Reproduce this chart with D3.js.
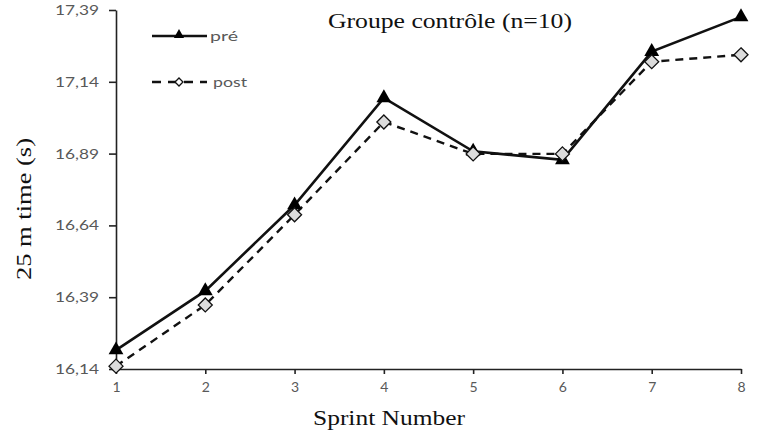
<!DOCTYPE html>
<html>
<head>
<meta charset="utf-8">
<script src="https://cdn.jsdelivr.net/npm/d3@7/dist/d3.min.js"></script>
<style>
  body { margin: 0; background: #fff; }
  .tick text { font-family: Lato, "Liberation Sans", sans-serif; font-size: 14px; fill: #595959; }
  .serif { font-family: "Liberation Serif", "DejaVu Serif", serif; fill: #111; }
</style>
</head>
<body>
<div id="chart"></div>
<script>
var sprints = [1, 2, 3, 4, 5, 6, 7, 8];
var pre = [16.206, 16.412, 16.711, 17.084, 16.898, 16.868, 17.245, 17.366];
var post = [16.150, 16.363, 16.677, 17.000, 16.889, 16.889, 17.210, 17.234];
var yTicks = [16.14, 16.39, 16.64, 16.89, 17.14, 17.39];

var w = 761, h = 438;
var padLeft = 116, padRight = 741, padTop = 10, padBottom = 369;

var svg = d3.select("#chart").append("svg")
    .attr("width", w)
    .attr("height", h);

var x = d3.scaleLinear().domain([1, 8]).range([padLeft, padRight]);
var y = d3.scaleLinear().domain([16.14, 17.39]).range([padBottom, padTop]);

var fmt = function (d) { return d.toFixed(2).replace(".", ","); };

var xAxis = svg.append("g")
    .attr("transform", "translate(0," + padBottom + ")")
    .call(d3.axisBottom(x).tickValues(sprints).tickFormat(d3.format("d"))
        .tickSize(5).tickSizeOuter(0).tickPadding(8));

var yAxis = svg.append("g")
    .attr("transform", "translate(" + padLeft + ",0)")
    .call(d3.axisLeft(y).tickValues(yTicks).tickFormat(fmt)
        .tickSize(7).tickSizeOuter(0).tickPadding(10));

yAxis.selectAll(".tick text")
    .attr("textLength", 44)
    .attr("lengthAdjust", "spacingAndGlyphs");

svg.selectAll(".domain, .tick line")
    .attr("stroke", "#222")
    .attr("stroke-width", 1.6);

// lines
var line = d3.line()
    .x(function (d, i) { return x(sprints[i]); })
    .y(function (d) { return y(d); });

svg.append("path")
    .datum(post)
    .attr("d", line)
    .attr("fill", "none")
    .attr("stroke", "#111")
    .attr("stroke-width", 2.4)
    .attr("stroke-dasharray", "8,6");

svg.append("path")
    .datum(pre)
    .attr("d", line)
    .attr("fill", "none")
    .attr("stroke", "#111")
    .attr("stroke-width", 2.6);

var tri = d3.symbol().type(d3.symbolTriangle).size(95);
var dia = function (s) {
    return "M0," + (-s) + "L" + s + ",0L0," + s + "L" + (-s) + ",0Z";
};

svg.selectAll(".pre-pt")
    .data(pre)
    .enter()
    .append("path")
    .attr("class", "pre-pt")
    .attr("d", tri)
    .attr("transform", function (d, i) { return "translate(" + x(sprints[i]) + "," + y(d) + ")"; })
    .attr("fill", "#000");

svg.selectAll(".post-pt")
    .data(post)
    .enter()
    .append("path")
    .attr("class", "post-pt")
    .attr("d", dia(7))
    .attr("transform", function (d, i) { return "translate(" + x(sprints[i]) + "," + y(d) + ")"; })
    .attr("fill", "#dcdcdc")
    .attr("stroke", "#111")
    .attr("stroke-width", 1.3);

// legend
var lg = svg.append("g");
lg.append("line")
    .attr("x1", 152).attr("x2", 207).attr("y1", 36).attr("y2", 36)
    .attr("stroke", "#111").attr("stroke-width", 2.6);
lg.append("path")
    .attr("d", d3.symbol().type(d3.symbolTriangle).size(45))
    .attr("transform", "translate(179,35)")
    .attr("fill", "#000");
lg.append("text")
    .attr("x", 210).attr("y", 41)
    .attr("textLength", 28)
    .attr("lengthAdjust", "spacingAndGlyphs")
    .style("font-family", "Lato, 'Liberation Sans', sans-serif")
    .style("font-size", "14px")
    .style("fill", "#595959")
    .text("pré");

lg.append("line")
    .attr("x1", 152).attr("x2", 207).attr("y1", 82).attr("y2", 82)
    .attr("stroke", "#111").attr("stroke-width", 2.4)
    .attr("stroke-dasharray", "9,7");
lg.append("path")
    .attr("d", dia(4))
    .attr("transform", "translate(179,82)")
    .attr("fill", "#fff")
    .attr("stroke", "#111")
    .attr("stroke-width", 1.3);
lg.append("text")
    .attr("x", 213).attr("y", 87)
    .attr("textLength", 34)
    .attr("lengthAdjust", "spacingAndGlyphs")
    .style("font-family", "Lato, 'Liberation Sans', sans-serif")
    .style("font-size", "14px")
    .style("fill", "#595959")
    .text("post");

// titles
svg.append("text")
    .attr("class", "serif")
    .attr("x", 328).attr("y", 28)
    .attr("textLength", 244)
    .attr("lengthAdjust", "spacingAndGlyphs")
    .style("font-size", "21px")
    .text("Groupe contrôle (n=10)");

svg.append("text")
    .attr("class", "serif")
    .attr("x", 313).attr("y", 425)
    .attr("textLength", 152)
    .attr("lengthAdjust", "spacingAndGlyphs")
    .style("font-size", "22px")
    .text("Sprint Number");

svg.append("text")
    .attr("class", "serif")
    .attr("transform", "translate(31,280) rotate(-90)")
    .attr("textLength", 142)
    .attr("lengthAdjust", "spacingAndGlyphs")
    .style("font-size", "21px")
    .text("25 m time (s)");
</script>
</body>
</html>
